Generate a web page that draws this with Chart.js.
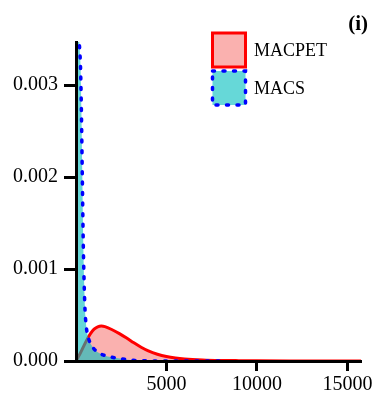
<!DOCTYPE html>
<html>
<head>
<meta charset="utf-8">
<script src="https://cdn.jsdelivr.net/npm/chart.js@4.4.1/dist/chart.umd.min.js"></script>
<style>
  html, body { margin: 0; padding: 0; background: #fff; }
  canvas { display: block; }
</style>
</head>
<body>
<canvas id="c" width="375" height="397"></canvas>
<script>
// Density estimates of peak widths for the two callers
const seriesNames = ['MACPET', 'MACS'];

const macpetX = [0, 200, 400, 600, 800, 1000, 1200, 1400, 1600, 2000, 2400, 2800, 3200, 3600,
  4000, 4500, 5000, 5500, 6000, 7000, 8000, 9000, 10000, 12000, 14000, 15750];
const macpetY = [0, 0.00007, 0.00015, 0.00023, 0.000298, 0.000347, 0.000372, 0.00038, 0.000374,
  0.00034, 0.000298, 0.00025, 0.000198, 0.00015, 0.00011, 0.000074, 0.000049, 0.000033,
  0.000023, 0.000012, 0.0000065, 0.000004, 0.0000025, 0.0000012, 0.0000006, 0.0000003];

const macsX = [0, 100, 200, 250, 300, 350, 400, 450, 500, 550, 620, 700, 800, 900, 1000,
  1200, 1500, 2000, 2500, 3000, 3500, 4000, 5000, 6000, 8000];
const macsY = [0.0040, 0.0038, 0.0034, 0.0032, 0.0027, 0.0020, 0.0013, 0.00085, 0.00055,
  0.00041, 0.00030, 0.00024, 0.00019, 0.00016, 0.00013, 0.000095, 0.000066, 0.000040,
  0.000024, 0.000011, 0.000004, 0.0000015, 0.0000005, 0.0000002, 0];

const xTickValues = [5000, 10000, 15000];
const yTickValues = [0, 0.001, 0.002, 0.003];
const yTickLabels = ['0.000', '0.001', '0.002', '0.003'];
const panelLabel = '(i)';

const serif = "'Liberation Serif', 'Times New Roman', serif";
const toPoints = (xs, ys) => xs.map((x, i) => ({ x: x, y: ys[i] }));

// Boxed legend keys and the panel tag, drawn inside the plot's top-right corner
const boxLegend = {
  id: 'boxLegend',
  afterDraw(chart) {
    const ctx = chart.ctx;
    ctx.save();
    ctx.font = 'bold 21px ' + serif;
    ctx.fillStyle = '#000';
    ctx.textAlign = 'right';
    ctx.textBaseline = 'alphabetic';
    ctx.fillText(panelLabel, 368, 30);

    const boxX = 212.5, boxW = 33, boxH = 34, gap = 3;
    let top = 33;
    chart.data.datasets.forEach((ds) => {
      ctx.fillStyle = '#fff';
      ctx.fillRect(boxX, top, boxW, boxH);
      ctx.fillStyle = ds.backgroundColor;
      ctx.fillRect(boxX, top, boxW, boxH);
      ctx.strokeStyle = ds.borderColor;
      ctx.lineWidth = ds.borderWidth;
      ctx.setLineDash(ds.borderDash || []);
      ctx.lineCap = ds.borderCapStyle || 'butt';
      ctx.strokeRect(boxX, top, boxW, boxH);
      ctx.setLineDash([]);
      ctx.fillStyle = '#000';
      ctx.font = '18px ' + serif;
      ctx.textAlign = 'left';
      ctx.textBaseline = 'middle';
      ctx.fillText(ds.label, 254, top + boxH / 2 + 1);
      top += boxH + gap + 1;
    });
    ctx.restore();
  }
};

new Chart(document.getElementById('c'), {
  type: 'line',
  data: {
    datasets: [
      {
        label: seriesNames[0],
        data: toPoints(macpetX, macpetY),
        borderColor: '#ff0000',
        borderWidth: 3,
        backgroundColor: 'rgba(245,100,95,0.5)',
        fill: 'origin',
        cubicInterpolationMode: 'monotone',
        pointRadius: 0,
        order: 2
      },
      {
        label: seriesNames[1],
        data: toPoints(macsX, macsY),
        borderColor: '#0000ff',
        borderWidth: 3.5,
        borderDash: [2, 8.5],
        borderCapStyle: 'round',
        backgroundColor: 'rgba(0,190,190,0.6)',
        fill: 'origin',
        cubicInterpolationMode: 'monotone',
        pointRadius: 0,
        order: 1
      }
    ]
  },
  options: {
    responsive: false,
    animation: false,
    devicePixelRatio: 1,
    layout: { padding: { top: 42, right: 13, left: 0, bottom: 0 } },
    plugins: { legend: { display: false }, tooltip: { enabled: false } },
    scales: {
      x: {
        type: 'linear',
        min: 0,
        max: 15750,
        afterBuildTicks: (s) => { s.ticks = xTickValues.map((v) => ({ value: v })); },
        afterFit: (s) => { s.height = 36; },
        grid: { drawOnChartArea: false, tickLength: 10, color: '#000', lineWidth: 3, z: 1 },
        border: { display: true, color: '#000', width: 3, z: 1 },
        ticks: {
          color: '#000',
          font: { family: serif, size: 20 },
          padding: 2,
          maxRotation: 0,
          autoSkip: false,
          callback: (v) => String(v)
        }
      },
      y: {
        type: 'linear',
        min: 0,
        max: 0.00347,
        afterBuildTicks: (s) => { s.ticks = yTickValues.map((v) => ({ value: v })); },
        afterFit: (s) => { s.width = 76; },
        grid: { drawOnChartArea: false, tickLength: 12, color: '#000', lineWidth: 3, z: 1 },
        border: { display: true, color: '#000', width: 3, z: 1 },
        ticks: {
          color: '#000',
          font: { family: serif, size: 20 },
          padding: 6,
          autoSkip: false,
          callback: (v) => yTickLabels[yTickValues.indexOf(v)] ?? ''
        }
      }
    }
  },
  plugins: [boxLegend]
});
</script>
</body>
</html>
